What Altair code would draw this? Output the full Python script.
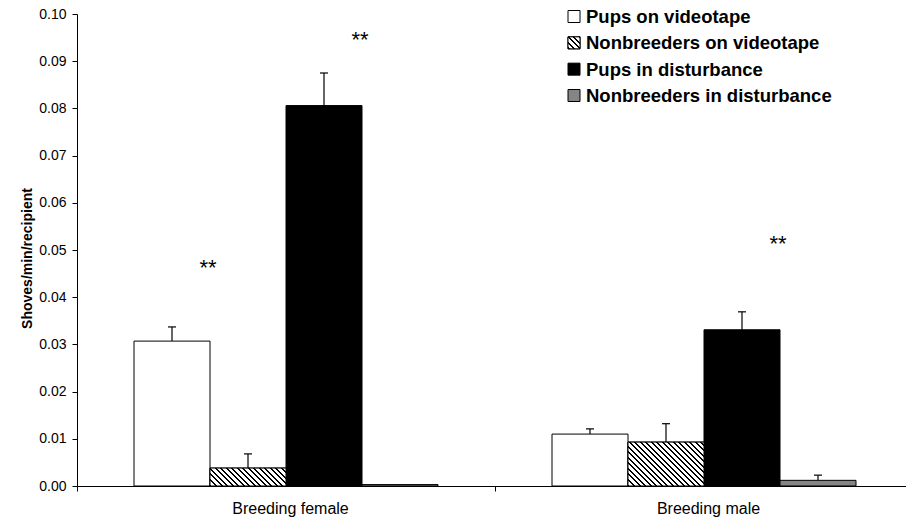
import math
import altair as alt
import pandas as pd

# ---- data -------------------------------------------------------------
groups = ["Breeding female", "Breeding male"]
series = [
    "Pups on videotape",
    "Nonbreeders on videotape",
    "Pups in disturbance",
    "Nonbreeders in disturbance",
]
female_mean = [0.0307, 0.0038, 0.0806, 0.0003]
female_se = [0.0030, 0.0030, 0.0069, 0.0]
male_mean = [0.0110, 0.0093, 0.0331, 0.0012]
male_se = [0.0011, 0.0039, 0.0038, 0.0011]

# significance markers (drawn just right of the named bar)
sig_group = ["Breeding female", "Breeding female", "Breeding male"]
sig_series = ["Pups on videotape", "Pups in disturbance", "Pups in disturbance"]
sig_y = [0.0447, 0.0931, 0.0498]

y_ticks = [round(i * 0.01, 2) for i in range(11)]

# ---- layout -----------------------------------------------------------
LEFT, TOP, BOTTOM = 77, 14, 34
PLOT_W, PLOT_H = 829, 472
X_RANGE = 836          # band range runs slightly past the right edge
Y_MAX = 0.1
FONT = "Liberation Sans"
BAR_W = X_RANGE / len(groups) / (len(series) + 1.5)

df = pd.DataFrame({
    "group": [g for g in groups for _ in series],
    "series": series * len(groups),
    "mean": female_mean + male_mean,
    "se": female_se + male_se,
})
df["top"] = df["mean"] + df["se"]

sig = pd.DataFrame({"group": sig_group, "series": sig_series, "y": sig_y})
leg = pd.DataFrame({"label": series})


def hatch(w, h, period=3.9, ink=0.36):
    """Diagonal '\\' hatching as a hard-stop linear gradient over a w x h box."""
    k = (w + h) / (w * w + h * h)
    n = (w + h) / math.sqrt(2) / period
    stops = []
    i = 0
    while i / n < 1:
        a = i / n
        b = min((i + ink) / n, 1.0)
        c = min((i + 1) / n, 1.0)
        stops += [
            {"offset": a, "color": "black"},
            {"offset": b, "color": "black"},
            {"offset": b, "color": "white"},
            {"offset": c, "color": "white"},
        ]
        i += 1
    return {"gradient": "linear", "x1": 0, "y1": 1,
            "x2": w * k, "y2": 1 - h * k, "stops": stops}


fills = ["white", "white", "black", "#858585"]

x_enc = alt.X(
    "group:N",
    scale=alt.Scale(domain=groups, range=[0, X_RANGE], paddingInner=0, paddingOuter=0),
    axis=alt.Axis(
        title=None, tickBand="extent", labelOffset=4,
        labelFontSize=16, labelBaseline="alphabetic", labelPadding=22,
        tickSize=5, labelAngle=0,
    ),
)
xo_enc = alt.XOffset(
    "series:N",
    scale=alt.Scale(domain=series, paddingInner=0, paddingOuter=0.75),
)
y_scale = alt.Scale(domain=[0, Y_MAX], nice=False, zero=True)
y_axis = alt.Axis(
    title="Shoves/min/recipient", values=y_ticks, format=".2f",
    labelFontSize=14, labelPadding=6, tickSize=5,
    titleFontSize=14, titleFontWeight="bold", titleAngle=270,
    titleX=-46, titleY=244, titleAlign="center", titleBaseline="alphabetic",
)

base = alt.Chart(df)

bars = base.mark_bar(stroke="black", strokeWidth=1, opacity=1).encode(
    x=x_enc,
    xOffset=xo_enc,
    y=alt.Y("mean:Q", scale=y_scale, axis=y_axis),
    fill=alt.Fill("series:N", scale=alt.Scale(domain=series, range=fills), legend=None),
)

hatched_layers = []
for g, m in zip(groups, [female_mean[1], male_mean[1]]):
    h = m / Y_MAX * PLOT_H
    hatched_layers.append(
        base.transform_filter(
            (alt.datum.group == g) & (alt.datum.series == series[1])
        ).mark_bar(fill=hatch(BAR_W, h), stroke="black", strokeWidth=1, opacity=1).encode(
            x=x_enc, xOffset=xo_enc, y=alt.Y("mean:Q", scale=y_scale)
        )
    )

err = base.transform_filter(alt.datum.se > 0)
stems = err.mark_rule(color="black", strokeWidth=1.2, opacity=1).encode(
    x=x_enc, xOffset=xo_enc,
    y=alt.Y("mean:Q", scale=y_scale), y2="top:Q",
)
caps = err.mark_tick(color="black", thickness=1.2, size=8, orient="horizontal", opacity=1).encode(
    x=x_enc, xOffset=xo_enc, y=alt.Y("top:Q", scale=y_scale),
)

stars = alt.Chart(sig).mark_text(
    text="**", fontSize=22, baseline="alphabetic", dx=BAR_W / 2 - 2, color="black"
).encode(x=x_enc, xOffset=xo_enc, y=alt.Y("y:Q", scale=y_scale))

main = alt.layer(bars, *hatched_layers, stems, caps, stars)

# ---- legend ------------------------------------------------------------
leg_y = alt.Y("label:N", scale=alt.Scale(domain=series, range=[9, 88], padding=0), axis=None)
swatch = alt.Chart(leg).mark_square(
    size=144, stroke="black", strokeWidth=1, opacity=1, yOffset=-6.5
).encode(
    x=alt.value(497), y=leg_y,
    fill=alt.Fill("label:N", scale=alt.Scale(domain=series, range=fills), legend=None),
)
swatch_hatch = alt.Chart(leg).transform_filter(alt.datum.label == series[1]).mark_square(
    size=144, stroke="black", strokeWidth=1, opacity=1, yOffset=-6.5, fill=hatch(12, 12)
).encode(x=alt.value(497), y=leg_y)
leg_text = alt.Chart(leg).mark_text(
    align="left", baseline="alphabetic", fontSize=18.5, fontWeight="bold", color="black"
).encode(x=alt.value(509), y=leg_y, text="label:N")

legend = alt.layer(swatch, swatch_hatch, leg_text)

chart = alt.layer(main, legend).resolve_scale(y="independent").properties(
    width=PLOT_W, height=PLOT_H,
    autosize=alt.AutoSizeParams(type="none"),
    padding={"left": LEFT, "top": TOP, "right": 0, "bottom": BOTTOM},
).configure(font=FONT).configure_view(stroke=None).configure_axis(
    grid=False, domainColor="black", tickColor="black", labelColor="black",
    titleColor="black", labelFont=FONT, titleFont=FONT, domainWidth=1, tickWidth=1,
)

chart.save("out.html", embed_options={"renderer": "svg", "actions": False})
